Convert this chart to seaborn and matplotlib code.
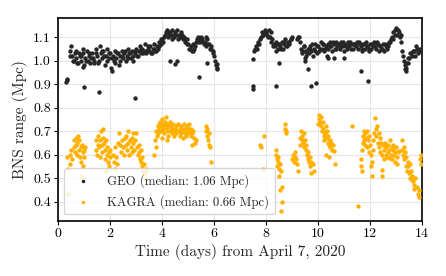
import numpy as np
import pandas as pd
import matplotlib
matplotlib.use("Agg")
import matplotlib.pyplot as plt
import seaborn as sns

# GEO BNS range (Mpc) vs time (days from April 7, 2020)
geo_t = [
    # start
    0.30, 0.33, 0.36,
    # first lock stretch
    0.45, 0.50, 0.55, 0.60, 0.65, 0.70, 0.75, 0.80, 0.85, 0.90,
    0.95, 1.00, 1.05, 1.10, 1.15, 1.20, 1.25, 1.30, 1.35, 1.40,
    1.45, 1.50, 1.55, 1.60, 1.65, 1.70, 1.75, 1.80, 1.85, 1.90,
    1.95, 2.00, 2.05, 2.10, 2.15, 2.20, 2.25, 2.30, 2.35, 2.40,
    2.45, 2.50, 2.55, 2.60, 2.65, 2.70, 2.75, 2.80, 2.85, 2.90,
    2.95, 3.00, 3.05, 3.10, 3.15, 3.20, 3.25, 3.30, 3.35, 3.40,
    3.45, 3.50, 3.55, 3.60, 3.65, 3.70, 3.75, 3.80, 3.85, 3.90,
    3.95, 4.00, 4.05, 4.10, 4.15, 4.20, 4.25, 4.30, 4.35, 4.40,
    4.45, 4.50, 4.55, 4.60, 4.65, 4.70, 4.75, 4.80, 4.85, 4.90,
    4.95, 5.00, 5.05, 5.10, 5.15, 5.20, 5.25, 5.30, 5.35, 5.40,
    5.45, 5.50, 5.55, 5.60, 5.65, 5.70, 5.75, 5.80, 5.85, 5.90,
    5.95, 6.00, 6.05, 6.10,
    0.48, 0.58, 0.68, 0.78, 0.88, 0.98, 1.08, 1.18, 1.28, 1.38,
    1.48, 1.58, 1.68, 1.78, 1.88, 1.98, 2.08, 2.18, 2.28, 2.38,
    2.48, 2.58, 2.68, 2.78, 2.88, 2.98, 3.08, 3.18, 3.28, 3.38,
    3.48, 3.58, 3.68, 3.78, 3.88, 3.98, 4.08, 4.18, 4.28, 4.38,
    4.48, 4.58, 4.68, 4.78, 4.88, 4.98, 5.08, 5.18, 5.28, 5.38,
    5.48, 5.58, 5.68, 5.78, 5.88, 5.98, 6.08,
    1.00, 1.58, 2.97, 4.30, 4.51, 4.59, 5.42, 5.75, 6.12, 6.10, 0.97, 2.06,
    # second lock stretch
    7.50, 7.50, 7.52,
    7.55, 7.60, 7.65, 7.70, 7.75, 7.80, 7.85, 7.90, 7.95, 8.00,
    8.05, 8.10, 8.15, 8.20, 8.25, 8.30, 8.35, 8.40, 8.45, 8.50,
    8.55, 8.60, 8.65, 8.70, 8.75, 8.80, 8.85, 8.90, 8.95, 9.00,
    7.58, 7.68, 7.78, 7.88, 7.98, 8.08, 8.18, 8.28, 8.38, 8.48,
    8.58, 8.68, 8.78, 8.88, 8.98,
    8.37, 8.50, 9.63, 9.72, 9.93, 9.52, 9.50,
    # third lock stretch
    9.20, 9.25, 9.30, 9.35, 9.40, 9.45, 9.50, 9.55, 9.60, 9.65,
    9.70, 9.75, 9.80, 9.85, 9.90, 9.95, 10.00, 10.05, 10.10, 10.15,
    10.20, 10.25, 10.30, 10.35, 10.40, 10.45, 10.50, 10.55, 10.60, 10.65,
    10.70, 10.75, 10.80, 10.85, 10.90, 10.95, 11.00, 11.05, 11.10, 11.15,
    11.20, 11.25, 11.30, 11.35, 11.40, 11.45, 11.50, 11.55, 11.60, 11.65,
    11.70, 11.75, 11.80, 11.85, 11.90, 11.95, 12.00, 12.05, 12.10, 12.15,
    12.20, 12.25, 12.30, 12.35, 12.40, 12.45, 12.50, 12.55, 12.60, 12.65,
    12.70, 12.75, 12.80, 12.85, 12.90, 12.95, 13.00, 13.05, 13.10, 13.15,
    13.20, 13.25, 13.30, 13.35, 13.40, 13.45, 13.50, 13.55, 13.60, 13.65,
    13.70, 13.75, 13.80, 13.85, 13.90, 13.95,
    9.28, 9.38, 9.48, 9.58, 9.68, 9.78, 9.88, 9.98, 10.08, 10.18,
    10.28, 10.38, 10.48, 10.58, 10.68, 10.78, 10.88, 10.98, 11.08, 11.18,
    11.28, 11.38, 11.48, 11.58, 11.68, 11.78, 11.88, 11.98, 12.08, 12.18,
    12.28, 12.38, 12.48, 12.58, 12.68, 12.78, 12.88, 12.98, 13.08, 13.18,
    13.28, 13.38, 13.48, 13.58, 13.68, 13.78, 13.88, 13.98,
    10.40, 10.60, 11.00, 11.65, 11.93, 13.35, 13.38,
]
geo_v = [
    0.91, 0.92, 0.915,
    1.04, 1.06, 1.02, 1.00, 1.03, 1.01, 0.99, 1.03, 1.02, 1.00,
    1.03, 0.98, 1.01, 1.04, 1.00, 1.02, 0.99, 1.03, 1.01, 1.00,
    1.05, 1.02, 0.99, 1.06, 1.03, 1.01, 1.04, 0.98, 1.02, 1.05,
    1.01, 1.03, 0.97, 1.02, 1.00, 1.04, 1.01, 1.03, 0.98, 1.02,
    1.04, 1.01, 1.03, 1.00, 1.02, 1.05, 1.03, 1.01, 1.04, 1.02,
    1.03, 1.05, 1.02, 1.04, 1.06, 1.03, 1.05, 1.04, 1.07, 1.03,
    1.05, 1.04, 1.06, 1.03, 1.05, 1.07, 1.04, 1.06, 1.05, 1.08,
    1.07, 1.09, 1.08, 1.11, 1.12, 1.13, 1.10, 1.12, 1.11, 1.13,
    1.10, 1.12, 1.11, 1.09, 1.11, 1.10, 1.12, 1.09, 1.10, 1.08,
    1.09, 1.07, 1.05, 1.06, 1.04, 1.07, 1.05, 1.08, 1.09, 1.10,
    1.08, 1.10, 1.09, 1.07, 1.08, 1.06, 1.09, 1.07, 1.05, 1.06,
    1.04, 1.02, 1.00, 0.97,
    1.02, 1.00, 1.04, 0.99, 1.02, 1.05, 1.00, 1.03, 1.01, 0.99,
    1.03, 1.00, 1.04, 1.02, 1.00, 1.03, 1.01, 0.99, 1.03, 1.00,
    1.02, 1.04, 1.01, 1.03, 1.00, 1.04, 1.02, 1.05, 1.03, 1.04,
    1.06, 1.03, 1.05, 1.04, 1.06, 1.09, 1.10, 1.12, 1.11, 1.09,
    1.11, 1.13, 1.10, 1.11, 1.09, 1.07, 1.05, 1.04, 1.06, 1.08,
    1.09, 1.08, 1.10, 1.07, 1.05, 1.03, 0.98,
    0.888, 0.867, 0.84, 1.00, 0.985, 1.00, 0.93, 0.99, 0.965, 0.985, 0.974, 0.955,
    0.89, 0.878, 1.008,
    1.04, 1.06, 1.05, 1.08, 1.07, 1.10, 1.12, 1.11, 1.13, 1.12,
    1.11, 1.13, 1.10, 1.12, 1.09, 1.07, 1.06, 1.08, 1.05, 1.07,
    1.06, 1.08, 1.05, 1.07, 1.09, 1.06, 1.08, 1.07, 1.09, 1.10,
    1.05, 1.07, 1.09, 1.11, 1.12, 1.10, 1.08, 1.06, 1.04, 1.07,
    1.05, 1.08, 1.06, 1.08, 1.09,
    0.892, 0.99, 0.964, 0.893, 0.905, 1.00, 1.01,
    1.09, 1.10, 1.08, 1.05, 1.03, 1.06, 1.04, 1.02, 1.05, 1.03,
    1.06, 1.04, 1.02, 1.05, 1.07, 1.03, 1.06, 1.04, 1.08, 1.05,
    1.07, 1.04, 1.06, 1.02, 1.05, 1.08, 1.06, 1.04, 1.07, 1.05,
    1.08, 1.06, 1.07, 1.05, 1.08, 1.06, 1.04, 1.07, 1.05, 1.08,
    1.06, 1.08, 1.07, 1.05, 1.07, 1.06, 1.08, 1.05, 1.07, 1.06,
    1.04, 1.07, 1.05, 1.08, 1.06, 1.04, 1.07, 1.05, 1.06, 1.08,
    1.06, 1.05, 1.07, 1.04, 1.06, 1.05, 1.07, 1.04, 1.06, 1.05,
    1.07, 1.08, 1.09, 1.10, 1.12, 1.13, 1.14, 1.11, 1.12, 1.10,
    1.08, 1.04, 1.00, 0.98, 0.97, 0.99, 1.01, 1.03, 1.02, 1.04,
    1.04, 1.02, 1.05, 1.03, 1.05, 1.04,
    1.10, 1.04, 1.06, 1.03, 1.05, 1.07, 1.04, 1.06, 1.05, 1.07,
    1.05, 1.07, 1.06, 1.08, 1.05, 1.07, 1.06, 1.08, 1.06, 1.07,
    1.05, 1.07, 1.06, 1.08, 1.05, 1.07, 1.06, 1.05, 1.07, 1.06,
    1.08, 1.06, 1.05, 1.07, 1.06, 1.08, 1.09, 1.11, 1.13, 1.11,
    1.02, 0.99, 1.01, 1.03, 1.04, 1.06, 1.04, 1.05,
    1.01, 1.01, 1.01, 0.955, 0.913, 0.965, 0.955,
]

# KAGRA BNS range (Mpc)
kagra_t = [
    0.35, 0.37, 0.40, 0.45, 0.48, 0.52, 0.55,
    0.60, 0.63, 0.65, 0.68, 0.70, 0.72, 0.75, 0.78, 0.80, 0.82,
    0.85, 0.87, 0.90, 0.92, 0.95, 0.97, 1.00, 1.02, 1.05, 0.88,
    1.45, 1.48, 1.50, 1.53, 1.55, 1.58, 1.60, 1.62, 1.65, 1.68,
    1.70, 1.72, 1.75, 1.78, 1.80, 1.82, 1.85, 1.88, 1.90, 1.92,
    1.95, 1.98, 2.00, 2.02, 1.86,
    2.10, 2.15, 2.20, 2.25, 2.30, 2.34, 2.18, 2.28,
    2.40, 2.43, 2.46, 2.50, 2.53, 2.56, 2.60, 2.63, 2.66, 2.70,
    2.73, 2.76, 2.80, 2.83, 2.86, 2.90, 2.93, 2.96, 3.00, 3.03,
    3.06, 3.10, 2.70, 2.88,
    3.13, 3.15, 3.18, 3.20, 3.23, 3.25, 3.28, 3.30, 3.33, 3.35, 3.37,
    3.68,
    3.75, 3.78, 3.80, 3.83, 3.85, 3.88, 3.90, 3.93, 3.95, 3.98,
    4.00, 4.03, 4.05, 4.08, 4.10, 4.13, 4.15, 4.18, 4.20, 4.23,
    4.25, 4.28, 4.30, 4.33, 4.35, 4.38, 4.40, 4.43, 4.45, 4.48,
    4.50, 4.53, 4.55, 4.58, 3.76, 4.20, 4.02,
    4.62, 4.65, 4.68, 4.70, 4.73, 4.75, 4.78, 4.80, 4.83, 4.85,
    4.88, 4.90, 4.93, 4.95, 4.98, 5.00, 5.03, 5.05, 5.08, 5.10,
    5.13, 5.15, 5.17, 5.20, 5.23, 5.26, 5.30,
    5.68, 5.70, 5.72, 5.75, 5.78, 5.80, 5.82, 5.85, 5.87,
    7.79, 7.80, 7.88, 7.91,
    8.37, 8.39, 8.41, 8.43, 8.45, 8.47, 8.50, 8.52, 8.55, 8.58,
    8.53, 8.60, 8.57, 8.63,
    8.73, 8.75, 8.77, 8.79,
    9.02, 9.05, 9.08, 9.10, 9.13, 9.16, 9.20, 9.22,
    9.30, 9.32, 9.35, 9.37, 9.40, 9.43, 9.45, 9.48, 9.50, 9.53, 9.55,
    9.58, 9.60, 9.62, 9.65, 9.68, 9.70, 9.72, 9.75, 9.80, 9.86,
    10.00, 10.03, 10.05, 10.08, 10.10, 10.13, 10.15, 10.18, 10.20, 10.23,
    10.25, 10.28, 10.30, 10.33, 10.35, 10.38, 10.40, 10.43, 10.45, 10.48,
    10.52, 10.55, 10.58, 10.62, 10.65, 10.30, 10.42,
    11.31, 11.53,
    11.65, 11.66, 11.68, 11.70, 11.72, 11.74, 11.76, 11.78, 11.80, 11.82,
    11.85, 11.88, 11.90, 11.92, 11.95, 11.98, 12.00, 12.03, 12.05, 12.07,
    12.08, 12.10, 12.13, 12.15,
    12.20, 12.22, 12.25, 12.28, 12.30, 12.33, 12.35, 12.38, 12.40, 12.43,
    12.45, 12.46, 12.48, 12.50, 12.53,
    12.56, 12.58, 12.60, 12.63, 12.65, 12.68, 12.70, 12.73, 12.75, 12.78,
    12.80, 12.83, 12.85, 12.88, 12.90, 12.93, 12.95, 12.98, 13.00, 13.03,
    13.05, 13.08, 13.10,
    13.22, 13.25, 13.27, 13.30, 13.33, 13.35, 13.38, 13.40, 13.42, 13.45,
    13.48, 13.50, 13.53, 13.55, 13.58, 13.60, 13.63, 13.66, 13.68, 13.70,
    13.75, 13.80, 13.85, 13.88, 13.90, 13.93, 13.95, 13.97,
]
kagra_v = [
    0.59, 0.54, 0.43, 0.60, 0.56, 0.62, 0.58,
    0.63, 0.66, 0.61, 0.64, 0.67, 0.60, 0.65, 0.68, 0.62, 0.66,
    0.59, 0.63, 0.57, 0.64, 0.61, 0.55, 0.62, 0.59, 0.63, 0.51,
    0.62, 0.66, 0.60, 0.64, 0.68, 0.63, 0.59, 0.66, 0.70, 0.64,
    0.61, 0.67, 0.71, 0.65, 0.62, 0.58, 0.66, 0.60, 0.63, 0.57,
    0.61, 0.55, 0.59, 0.62, 0.53,
    0.60, 0.57, 0.63, 0.59, 0.65, 0.69, 0.54, 0.56,
    0.64, 0.61, 0.66, 0.63, 0.60, 0.67, 0.64, 0.68, 0.62, 0.65,
    0.60, 0.66, 0.63, 0.67, 0.61, 0.65, 0.62, 0.66, 0.69, 0.63,
    0.60, 0.64, 0.70, 0.69,
    0.61, 0.58, 0.57, 0.62, 0.55, 0.59, 0.53, 0.56, 0.52, 0.49, 0.54,
    0.60,
    0.66, 0.70, 0.68, 0.72, 0.69, 0.73, 0.71, 0.74, 0.70, 0.72,
    0.75, 0.71, 0.73, 0.69, 0.72, 0.74, 0.76, 0.71, 0.73, 0.70,
    0.68, 0.72, 0.74, 0.70, 0.72, 0.69, 0.71, 0.73, 0.70, 0.68,
    0.71, 0.69, 0.72, 0.70, 0.63, 0.66, 0.67,
    0.73, 0.70, 0.68, 0.71, 0.69, 0.72, 0.70, 0.67, 0.71, 0.73,
    0.69, 0.71, 0.68, 0.70, 0.72, 0.69, 0.71, 0.73, 0.70, 0.68,
    0.71, 0.69, 0.64, 0.70, 0.67, 0.65, 0.66,
    0.70, 0.72, 0.68, 0.71, 0.66, 0.64, 0.69, 0.63, 0.57,
    0.64, 0.63, 0.54, 0.68,
    0.62, 0.60, 0.58, 0.55, 0.59, 0.57, 0.54, 0.51, 0.56, 0.53,
    0.45, 0.40, 0.36, 0.46,
    0.73, 0.71, 0.70, 0.69,
    0.58, 0.60, 0.57, 0.61, 0.59, 0.58, 0.56, 0.53,
    0.64, 0.67, 0.70, 0.66, 0.68, 0.65, 0.69, 0.63, 0.66, 0.62, 0.64,
    0.60, 0.58, 0.61, 0.57, 0.59, 0.55, 0.57, 0.52, 0.56, 0.53,
    0.73, 0.75, 0.77, 0.74, 0.76, 0.72, 0.70, 0.74, 0.71, 0.68,
    0.66, 0.69, 0.72, 0.67, 0.70, 0.65, 0.68, 0.64, 0.66, 0.63,
    0.65, 0.62, 0.64, 0.615, 0.56, 0.60, 0.59,
    0.72, 0.38,
    0.58, 0.55, 0.53, 0.62, 0.65, 0.68, 0.70, 0.66, 0.69, 0.64,
    0.67, 0.70, 0.63, 0.66, 0.61, 0.68, 0.64, 0.60, 0.55, 0.51,
    0.57, 0.62, 0.66, 0.69,
    0.755, 0.71, 0.68, 0.72, 0.65, 0.69, 0.63, 0.67, 0.61, 0.65,
    0.535, 0.51, 0.60, 0.64, 0.58,
    0.62, 0.65, 0.60, 0.63, 0.59, 0.64, 0.61, 0.585, 0.62, 0.66,
    0.60, 0.63, 0.58, 0.62, 0.64, 0.60, 0.57, 0.61, 0.63, 0.59,
    0.56, 0.61, 0.615,
    0.62, 0.66, 0.60, 0.63, 0.58, 0.61, 0.55, 0.59, 0.53, 0.57,
    0.55, 0.52, 0.56, 0.50, 0.53, 0.49, 0.51, 0.486, 0.455, 0.47,
    0.50, 0.46, 0.43, 0.42, 0.45, 0.58, 0.60, 0.56,
]

geo_label = "GEO (median: 1.06 Mpc)"
kagra_label = "KAGRA (median: 0.66 Mpc)"
x_ticks = [0, 2, 4, 6, 8, 10, 12, 14]
y_ticks = [0.4, 0.5, 0.6, 0.7, 0.8, 0.9, 1.0, 1.1]

sns.set_style("whitegrid")
plt.rcParams["font.family"] = "serif"
plt.rcParams["font.serif"] = ["cmr10"]
plt.rcParams["mathtext.fontset"] = "cm"
plt.rcParams["axes.unicode_minus"] = False
plt.rcParams["axes.formatter.use_mathtext"] = True

geo_df = pd.DataFrame({"t": geo_t, "range": geo_v})
kagra_df = pd.DataFrame({"t": kagra_t, "range": kagra_v})

fig = plt.figure(figsize=(4.46, 2.76), dpi=100)
ax = fig.add_axes([0.130, 0.200, 0.816, 0.734])

sns.scatterplot(data=geo_df, x="t", y="range", ax=ax, color="#262626",
                s=10, linewidth=0, label=geo_label, zorder=3)
sns.scatterplot(data=kagra_df, x="t", y="range", ax=ax, color="#ffb000",
                s=10, linewidth=0, label=kagra_label, zorder=3)

ax.set_xlim(0, 14)
ax.set_ylim(0.318, 1.18)
ax.set_xticks(x_ticks)
ax.set_yticks(y_ticks)
ax.set_xticklabels([str(v) for v in x_ticks])
ax.set_yticklabels(["%.1f" % v for v in y_ticks])
ax.grid(True, color="#e5e5e5", linewidth=0.8)
for sp in ax.spines.values():
    sp.set_color("black")
    sp.set_linewidth(1.2)
ax.tick_params(axis="both", which="major", direction="out", length=3, width=0.8,
               labelsize=10, colors="black", bottom=True, left=True, pad=2)

ax.set_xlabel("Time (days) from April 7, 2020", fontsize=11, labelpad=3)
ax.set_ylabel("BNS range (Mpc)", fontsize=11, labelpad=4)

leg = ax.legend(loc="lower left", fontsize=9.2, frameon=True, fancybox=True,
                framealpha=0.8, edgecolor="#cccccc", markerscale=0.8,
                handletextpad=0.9, borderpad=0.45, labelspacing=0.55,
                borderaxespad=0.5)

fig.savefig("out.png", dpi=100)
